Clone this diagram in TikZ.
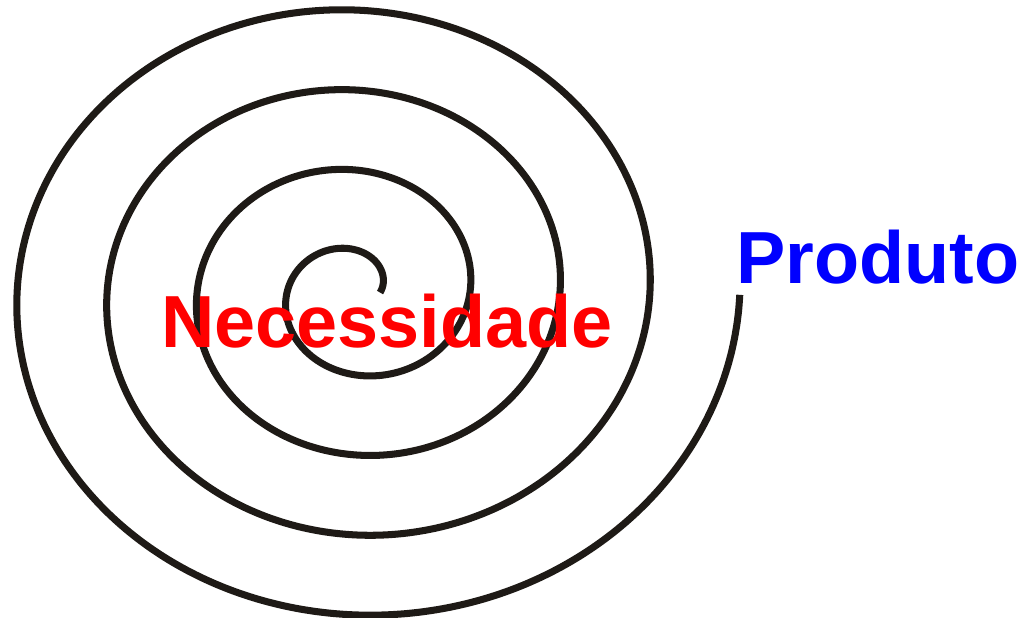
\documentclass[tikz,border=0pt]{standalone}
\usepackage{fontspec}
\setmainfont{Liberation Sans}
\definecolor{spiralink}{RGB}{30,26,22}
\definecolor{necred}{RGB}{255,0,0}
\definecolor{prodblue}{RGB}{0,0,255}
\tikzset{
  spiralline/.style={draw=spiralink, line width=5pt, line cap=butt},
  bigword/.style={font=\bfseries\fontsize{52.5}{60}\selectfont, inner sep=0pt, anchor=base}
}
\begin{document}
\begin{tikzpicture}[x=0.025cm, y=-0.025cm]
\useasboundingbox (0,0) rectangle (1026,618);
\draw[spiralline] plot[domain=0:25.1327, samples=600, variable=\t, smooth]
  ({356 + (24+14.32*\t)*cos(\t r)}, {292.5 - (22.5+12.73*\t)*sin(\t r)});
\node[bigword, text=necred] (necessidade) at (387,347) {Necessidade};
\node[bigword, text=prodblue] (produto) at (878,283) {Produto};
\end{tikzpicture}
\end{document}
